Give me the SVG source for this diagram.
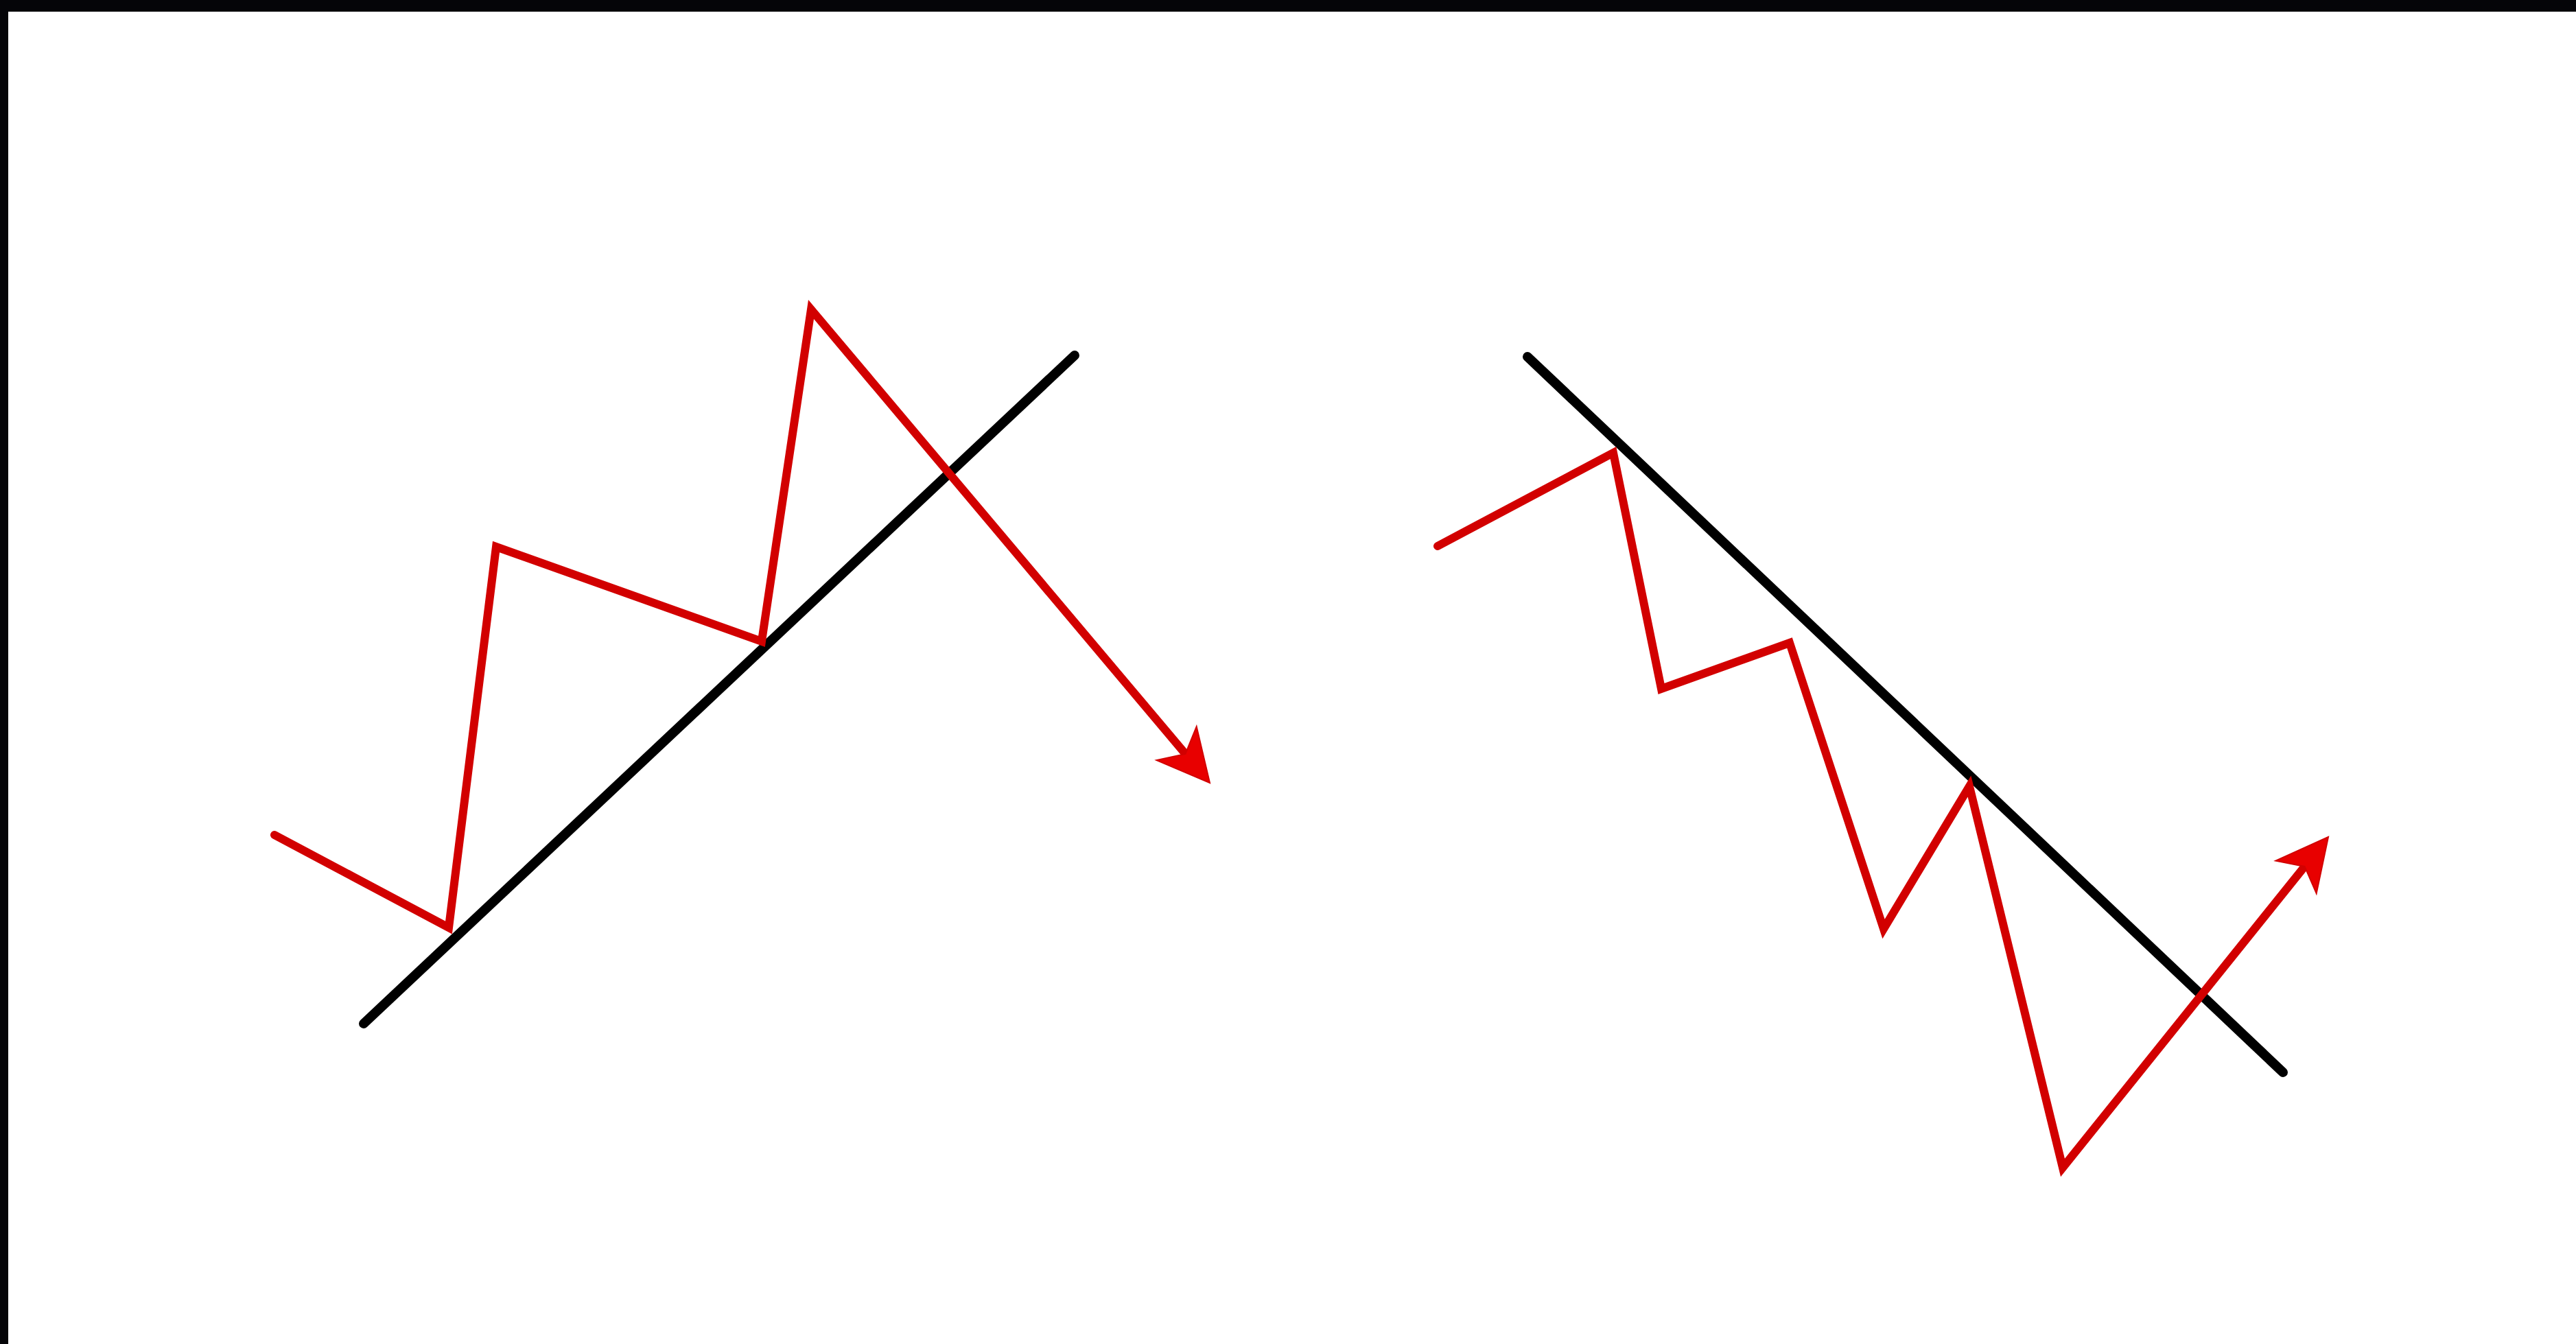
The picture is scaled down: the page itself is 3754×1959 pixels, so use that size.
<svg xmlns="http://www.w3.org/2000/svg" width="3754" height="1959" viewBox="0 0 3754 1959">
<style>
.trend{fill:none;stroke:#000;stroke-width:14;stroke-linecap:round}
.price{fill:none;stroke:#d20000;stroke-width:12;stroke-linejoin:miter;stroke-miterlimit:10;stroke-linecap:round}
.head{fill:#e80000;stroke:#d20000;stroke-width:2;stroke-linejoin:miter}
</style>
<rect x="0" y="0" width="3754" height="1959" fill="#ffffff"/>
<rect id="frame-top" x="0" y="0" width="3754" height="17" fill="#050508"/>
<rect id="frame-left" x="0" y="0" width="12" height="1959" fill="#050508"/>
<g id="uptrend-break">
<line class="trend" x1="530" y1="1492" x2="1566" y2="518"/>
<polyline class="price" points="400,1217 654,1352 723,797 1110,935 1182,451 1727.5,1098.9"/>
<polygon class="head" points="1763,1141 1685.5,1108.1 1727.5,1098.9 1743.7,1059.1"/>
</g>
<g id="downtrend-break">
<line class="trend" x1="2226" y1="520" x2="3327" y2="1563"/>
<polyline class="price" points="2095,796 2351,660 2421,1004 2608,937 2745,1354 2870,1146 3006,1702 3358.6,1262.9"/>
<polygon class="head" points="3393,1220 3316.4,1254.7 3358.6,1262.9 3375.7,1302.3"/>
</g>
</svg>
